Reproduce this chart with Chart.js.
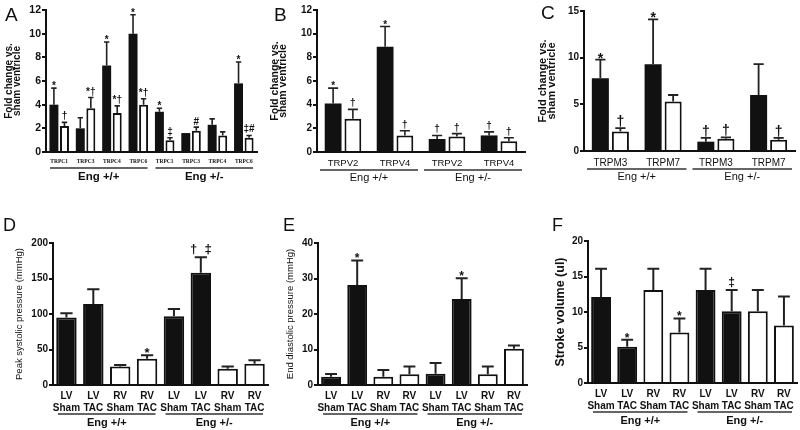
<!DOCTYPE html>
<html>
<head>
<meta charset="utf-8">
<title>TRP channel expression and hemodynamics</title>
<script src="https://cdn.jsdelivr.net/npm/chart.js@4.4.1/dist/chart.umd.min.js"></script>
<style>
  body { margin: 0; background: #fff; }
  #wrap { position: relative; width: 800px; height: 430px; overflow: hidden; background: #fff; }
  #wrap canvas { position: absolute; }
</style>
</head>
<body>
<div id="wrap">
  <canvas id="panelA" width="265" height="215" style="left:0;top:0"></canvas>
  <canvas id="panelB" width="265" height="215" style="left:265px;top:0"></canvas>
  <canvas id="panelC" width="270" height="215" style="left:530px;top:0"></canvas>
  <canvas id="panelD" width="270" height="215" style="left:0;top:215px"></canvas>
  <canvas id="panelE" width="270" height="215" style="left:265px;top:215px"></canvas>
  <canvas id="panelF" width="270" height="215" style="left:530px;top:215px"></canvas>
</div>
<script>
const SANS = "'Liberation Sans', Arial, sans-serif";
const SERIF = "'Liberation Serif', 'Times New Roman', serif";
const INK = '#111';

// Group labels under the x axis (first half / second half of categories)
const groupNames = ['Eng +/+', 'Eng +/-'];

// A: TRPC fold change (black = LV, white = RV), errors are SEM above the bar
const trpcLabels = ['TRPC1', 'TRPC3', 'TRPC4', 'TRPC6', 'TRPC1', 'TRPC3', 'TRPC4', 'TRPC6'];
const trpcLV = [4.0, 2.0, 7.3, 10.0, 3.4, 1.6, 2.3, 5.8];
const trpcLVErr = [1.4, 0.9, 2.0, 1.6, 0.3, 0, 0.5, 1.8];
const trpcRV = [2.2, 3.7, 3.3, 4.0, 1.0, 1.8, 1.4, 1.2];
const trpcRVErr = [0.3, 0.9, 0.6, 0.5, 0.2, 0.3, 0.3, 0.2];
const trpcLVMarks = ['*', '', '*', '*', '*', '', '', '*'];
const trpcRVMarks = ['†', '*†', '*†', '*†', '‡', '#', '', '‡#'];

// B: TRPV
const trpvLabels = ['TRPV2', 'TRPV4', 'TRPV2', 'TRPV4'];
const trpvLV = [4.1, 8.9, 1.1, 1.4];
const trpvLVErr = [1.3, 1.7, 0.3, 0.3];
const trpvRV = [2.8, 1.4, 1.3, 0.9];
const trpvRVErr = [0.8, 0.4, 0.25, 0.3];
const trpvLVMarks = ['*', '*', '†', '†'];
const trpvRVMarks = ['†', '†', '†', '†'];

// C: TRPM
const trpmLabels = ['TRPM3', 'TRPM7', 'TRPM3', 'TRPM7'];
const trpmLV = [7.8, 9.3, 1.0, 6.0];
const trpmLVErr = [2.0, 4.8, 0.4, 3.3];
const trpmRV = [2.1, 5.3, 1.3, 1.2];
const trpmRVErr = [0.35, 0.7, 0.15, 0.2];
const trpmLVMarks = ['*', '*', '†', ''];
const trpmRVMarks = ['†', '', '†', '†'];

// D-F: hemodynamics
const hemoLabels = [['LV', 'Sham'], ['LV', 'TAC'], ['RV', 'Sham'], ['RV', 'TAC'],
                    ['LV', 'Sham'], ['LV', 'TAC'], ['RV', 'Sham'], ['RV', 'TAC']];
const peakSystolic = [95, 114, 26, 37, 97, 158, 23, 30];
const peakSystolicErr = [6, 21, 2, 5, 10, 22, 3, 5];
const peakSystolicMarks = ['', '', '', '*', '', '†  ‡', '', ''];
const endDiastolic = [2.3, 28.2, 2.3, 3.0, 3.2, 24.2, 3.0, 10.2];
const endDiastolicErr = [0.8, 6.9, 1.9, 2.2, 3.0, 5.9, 2.2, 0.9];
const endDiastolicMarks = ['', '*', '', '', '', '*', '', ''];
const strokeVolume = [12.1, 5.1, 13.1, 7.1, 13.1, 10.1, 10.1, 8.1];
const strokeVolumeErr = [4.0, 1.0, 3.0, 2.0, 3.0, 3.0, 3.0, 4.1];
const strokeVolumeMarks = ['', '*', '', '*', '', '‡', '', ''];

// error bars, significance marks, group underlines and the panel letter
const panelDecor = {
  id: 'panelDecor',
  afterDatasetsDraw(chart, args, o) {
    const ctx = chart.ctx;
    const y = chart.scales.y;
    ctx.save();
    ctx.strokeStyle = '#222';
    ctx.fillStyle = INK;
    ctx.lineWidth = o.errWidth;
    ctx.textAlign = 'center';
    ctx.textBaseline = 'alphabetic';
    ctx.font = o.markFont;
    chart.data.datasets.forEach((ds, di) => {
      chart.getDatasetMeta(di).data.forEach((bar, i) => {
        const top = y.getPixelForValue(ds.data[i]);
        const end = y.getPixelForValue(ds.data[i] + ds.err[i]);
        const cap = bar.width * o.capRatio;
        if (ds.err[i] > 0) {
          ctx.beginPath();
          ctx.moveTo(bar.x, top);
          ctx.lineTo(bar.x, end);
          ctx.moveTo(bar.x - cap / 2, end);
          ctx.lineTo(bar.x + cap / 2, end);
          ctx.stroke();
        }
        const mark = ds.marks[i];
        if (mark) {
          const m = ctx.measureText(mark);
          ctx.fillText(mark, bar.x, end - o.markGap - m.actualBoundingBoxDescent);
        }
      });
    });
    ctx.restore();
  },
  afterDraw(chart, args, o) {
    const ctx = chart.ctx;
    const x = chart.scales.x;
    const n = chart.data.labels.length;
    const step = (x.right - x.left) / n;
    ctx.save();
    ctx.strokeStyle = '#333';
    ctx.lineWidth = 1.5;
    ctx.fillStyle = INK;
    ctx.textAlign = 'center';
    ctx.textBaseline = 'middle';
    ctx.font = o.groupFont;
    groupNames.forEach((name, gi) => {
      const first = gi * n / 2, last = (gi + 1) * n / 2 - 1;
      const x0 = x.getPixelForValue(first) - step / 2 + o.lineInset;
      const x1 = x.getPixelForValue(last) + step / 2 - o.lineInset;
      ctx.beginPath();
      ctx.moveTo(x0, o.lineY);
      ctx.lineTo(x1, o.lineY);
      ctx.stroke();
      ctx.fillText(name, (x0 + x1) / 2, o.labelY);
    });
    ctx.textAlign = 'left';
    ctx.textBaseline = 'alphabetic';
    ctx.font = o.letterFont;
    ctx.fillText(o.letter, o.letterX, o.letterY);
    ctx.restore();
  }
};

function makePanel(id, c) {
  const canvas = document.getElementById(id);
  return new Chart(canvas.getContext('2d'), {
    type: 'bar',
    data: { labels: c.labels, datasets: c.datasets },
    options: {
      responsive: false,
      animation: false,
      layout: { padding: { left: 0, top: c.top, right: canvas.width - c.right, bottom: 0 } },
      datasets: { bar: { categoryPercentage: c.catPct, barPercentage: c.barPct } },
      plugins: {
        legend: { display: false },
        tooltip: { enabled: false },
        panelDecor: c.decor
      },
      scales: {
        x: {
          grid: { display: false, drawTicks: false },
          border: { color: INK, width: 2 },
          ticks: { color: INK, font: c.xFont, padding: c.xPad, maxRotation: 0, minRotation: 0, autoSkip: false },
          afterFit: s => { s.height = canvas.height - c.bottom; }
        },
        y: {
          min: 0,
          max: c.max,
          ticks: { stepSize: c.step, color: INK, font: c.yFont, padding: 1 },
          grid: { display: true, drawOnChartArea: false, drawTicks: true, tickLength: 4, color: INK, lineWidth: 2 },
          border: { color: INK, width: 2 },
          title: { display: true, text: c.title, color: INK, font: c.titleFont, padding: { top: c.titlePad, bottom: 0 } },
          afterFit: s => { s.width = c.left; }
        }
      }
    },
    plugins: [panelDecor]
  });
}

function pairSets(lv, lvErr, lvMarks, rv, rvErr, rvMarks) {
  return [
    { data: lv, err: lvErr, marks: lvMarks, backgroundColor: INK, borderColor: INK, borderWidth: 0 },
    { data: rv, err: rvErr, marks: rvMarks, backgroundColor: '#fff', borderColor: INK, borderWidth: 2 }
  ];
}

function hemoSet(values, errs, marks) {
  return [{
    data: values, err: errs, marks: marks,
    backgroundColor: hemoLabels.map(l => l[0] === 'LV' ? INK : '#fff'),
    borderColor: INK, borderWidth: 2
  }];
}

const foldTitle = ['Fold change vs.', 'sham ventricle'];

makePanel('panelA', {
  labels: trpcLabels,
  datasets: pairSets(trpcLV, trpcLVErr, trpcLVMarks, trpcRV, trpcRVErr, trpcRVMarks),
  max: 12, step: 2, left: 46, right: 257, top: 10, bottom: 152,
  catPct: 0.8, barPct: 0.85,
  yFont: { family: SANS, size: 10.5, weight: 'bold' },
  xFont: { family: SERIF, size: 5.5, weight: 'bold' },
  xPad: 6,
  title: foldTitle,
  titleFont: { family: SANS, size: 10, weight: 'bold', lineHeight: 0.85 },
  titlePad: 4.8,
  decor: { letter: 'A', letterX: 5, letterY: 21, letterFont: `19px ${SANS}`,
           lineY: 168, labelY: 177, groupFont: `bold 11.5px ${SANS}`, lineInset: 4,
           errWidth: 1.6, capRatio: 0.6, markFont: `bold 10px ${SANS}`, markGap: 2 }
});

makePanel('panelB', {
  labels: trpvLabels,
  datasets: pairSets(trpvLV, trpvLVErr, trpvLVMarks, trpvRV, trpvRVErr, trpvRVMarks),
  max: 12, step: 2, left: 52, right: 260, top: 10, bottom: 152,
  catPct: 0.76, barPct: 0.85,
  yFont: { family: SANS, size: 10, weight: 'bold' },
  xFont: { family: SANS, size: 9.5 },
  xPad: 6,
  title: foldTitle,
  titleFont: { family: SANS, size: 10.5, weight: 'bold', lineHeight: 0.8 },
  titlePad: 6,
  decor: { letter: 'B', letterX: 9, letterY: 21, letterFont: `19px ${SANS}`,
           lineY: 170, labelY: 178, groupFont: `11px ${SANS}`, lineInset: 3,
           errWidth: 1.6, capRatio: 0.6, markFont: `bold 10px ${SANS}`, markGap: 2 }
});

makePanel('panelC', {
  labels: trpmLabels,
  datasets: pairSets(trpmLV, trpmLVErr, trpmLVMarks, trpmRV, trpmRVErr, trpmRVMarks),
  max: 15, step: 5, left: 54, right: 265, top: 11, bottom: 151,
  catPct: 0.76, barPct: 0.85,
  yFont: { family: SANS, size: 10, weight: 'bold' },
  xFont: { family: SANS, size: 10 },
  xPad: 6,
  title: foldTitle,
  titleFont: { family: SANS, size: 11, weight: 'bold', lineHeight: 0.8 },
  titlePad: 9,
  decor: { letter: 'C', letterX: 11, letterY: 19, letterFont: `19px ${SANS}`,
           lineY: 169, labelY: 177, groupFont: `11px ${SANS}`, lineInset: 3,
           errWidth: 1.8, capRatio: 0.6, markFont: `bold 14px ${SANS}`, markGap: 1 }
});

makePanel('panelD', {
  labels: hemoLabels,
  datasets: hemoSet(peakSystolic, peakSystolicErr, peakSystolicMarks),
  max: 200, step: 50, left: 53, right: 268, top: 28, bottom: 170,
  catPct: 0.76, barPct: 1,
  yFont: { family: SANS, size: 10, weight: 'bold' },
  xFont: { family: SANS, size: 10, weight: 'bold', lineHeight: 1.2 },
  xPad: 5,
  title: 'Peak systolic pressure (mmHg)',
  titleFont: { family: SANS, size: 9.5, lineHeight: 1.2 },
  titlePad: 14,
  decor: { letter: 'D', letterX: 3, letterY: 16, letterFont: `18px ${SANS}`,
           lineY: 199, labelY: 208, groupFont: `bold 11px ${SANS}`, lineInset: 5,
           errWidth: 2, capRatio: 0.6, markFont: `bold 13px ${SANS}`, markGap: 2 }
});

makePanel('panelE', {
  labels: hemoLabels,
  datasets: hemoSet(endDiastolic, endDiastolicErr, endDiastolicMarks),
  max: 40, step: 10, left: 53, right: 262, top: 28, bottom: 170,
  catPct: 0.76, barPct: 1,
  yFont: { family: SANS, size: 10, weight: 'bold' },
  xFont: { family: SANS, size: 10, weight: 'bold', lineHeight: 1.2 },
  xPad: 5,
  title: 'End diastolic pressure (mmHg)',
  titleFont: { family: SANS, size: 9.5, lineHeight: 1.2 },
  titlePad: 20,
  decor: { letter: 'E', letterX: 18, letterY: 16, letterFont: `18px ${SANS}`,
           lineY: 199, labelY: 208, groupFont: `bold 11px ${SANS}`, lineInset: 5,
           errWidth: 2, capRatio: 0.6, markFont: `bold 12px ${SANS}`, markGap: 2 }
});

makePanel('panelF', {
  labels: hemoLabels,
  datasets: hemoSet(strokeVolume, strokeVolumeErr, strokeVolumeMarks),
  max: 20, step: 5, left: 58, right: 267, top: 26, bottom: 168,
  catPct: 0.76, barPct: 1,
  yFont: { family: SANS, size: 10, weight: 'bold' },
  xFont: { family: SANS, size: 10, weight: 'bold', lineHeight: 1.2 },
  xPad: 5,
  title: 'Stroke volume (ul)',
  titleFont: { family: SANS, size: 12.5, weight: 'bold', lineHeight: 1.2 },
  titlePad: 23,
  decor: { letter: 'F', letterX: 22, letterY: 16, letterFont: `18px ${SANS}`,
           lineY: 197, labelY: 206, groupFont: `bold 11px ${SANS}`, lineInset: 5,
           errWidth: 2, capRatio: 0.6, markFont: `bold 12px ${SANS}`, markGap: 2 }
});
</script>
</body>
</html>
